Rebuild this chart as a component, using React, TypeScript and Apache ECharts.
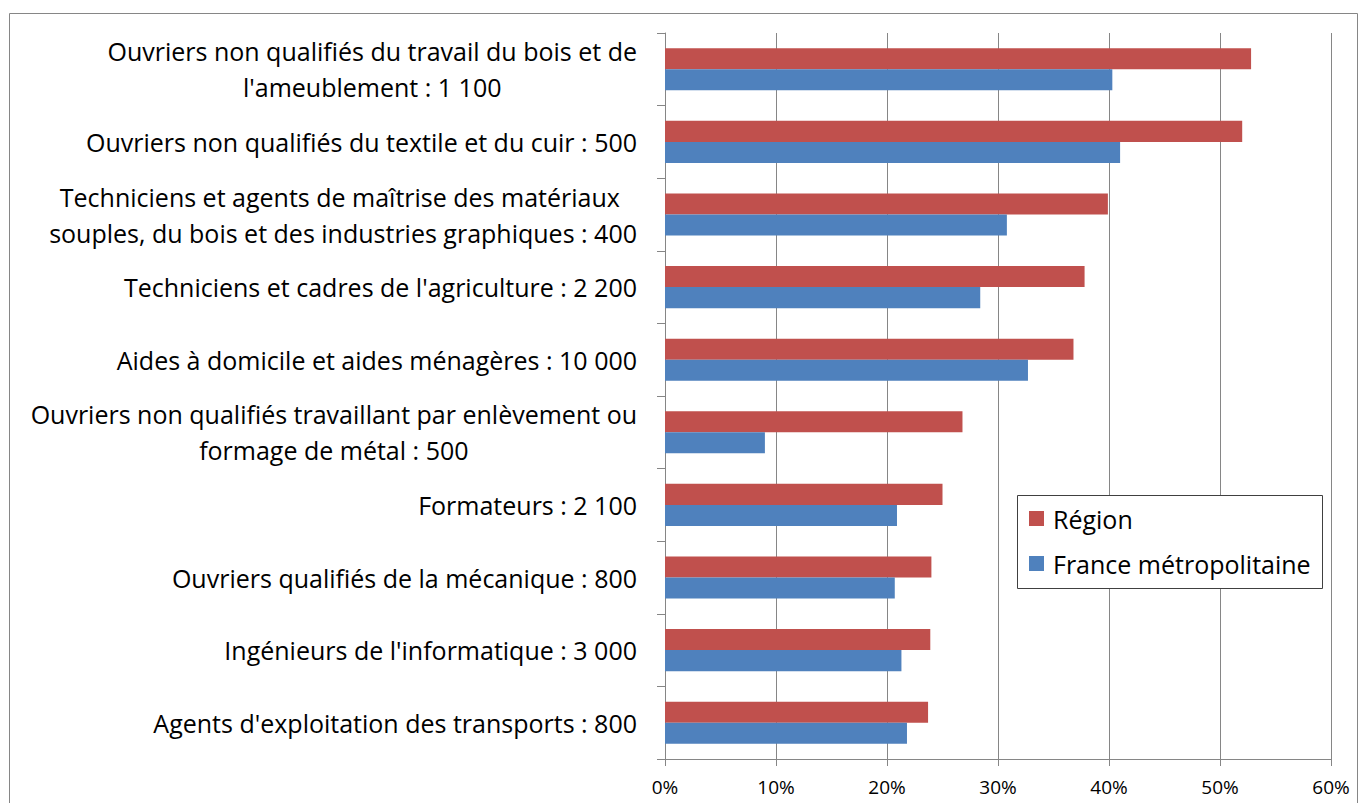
import React, { useEffect, useRef } from "react";
import * as echarts from "echarts";

const categories: string[] = [
  "Ouvriers non qualifiés du travail du bois et de\nl'ameublement : 1 100",
  "Ouvriers non qualifiés du textile et du cuir : 500",
  "Techniciens et agents de maîtrise des matériaux \nsouples, du bois et des industries graphiques : 400",
  "Techniciens et cadres de l'agriculture : 2 200",
  "Aides à domicile et aides ménagères : 10 000",
  "Ouvriers non qualifiés travaillant par enlèvement ou\nformage de métal : 500",
  "Formateurs : 2 100",
  "Ouvriers qualifiés de la mécanique : 800",
  "Ingénieurs de l'informatique : 3 000",
  "Agents d'exploitation des transports : 800",
];

const regionValues: number[] = [52.8, 52.0, 39.9, 37.8, 36.8, 26.8, 25.0, 24.0, 23.9, 23.7];
const franceValues: number[] = [40.3, 41.0, 30.8, 28.4, 32.7, 9.0, 20.9, 20.7, 21.3, 21.8];

const seriesNames: string[] = ["Région", "France métropolitaine"];
const xTicks: number[] = [0, 10, 20, 30, 40, 50, 60];

const FONT = "'Open Sans', 'Noto Sans', sans-serif";

export default function App() {
  const ref = useRef<HTMLDivElement>(null);
  useEffect(() => {
    if (!ref.current) return;
    const chart = echarts.init(ref.current, undefined, { renderer: "svg" });
    chart.setOption({
      animation: false,
      backgroundColor: "#ffffff",
      textStyle: { fontFamily: FONT, color: "#000" },
      grid: { left: 665, right: 29, top: 33, bottom: 44, containLabel: false },
      xAxis: {
        type: "value",
        min: xTicks[0],
        max: xTicks[xTicks.length - 1],
        interval: xTicks[1] - xTicks[0],
        axisLine: { show: true, lineStyle: { color: "#868686", width: 1 } },
        axisTick: { show: true, length: 7, lineStyle: { color: "#868686" } },
        axisLabel: {
          formatter: "{value}%",
          fontSize: 19,
          fontFamily: FONT,
          color: "#000",
          margin: 18,
        },
        splitLine: { show: true, lineStyle: { color: "#868686", width: 1 } },
      },
      yAxis: {
        type: "category",
        inverse: true,
        data: categories,
        axisLine: { show: true, lineStyle: { color: "#868686", width: 1 } },
        axisTick: { show: true, length: 8, alignWithLabel: false, lineStyle: { color: "#868686" } },
        splitLine: { show: false },
        axisLabel: {
          margin: 28,
          align: "right",
          formatter: (v: string) =>
            v
              .split("\n")
              .map((l) => `{c|${l}}`)
              .join("\n"),
          rich: {
            c: {
              fontSize: 25,
              lineHeight: 36,
              fontFamily: FONT,
              color: "#000",
              align: "center",
            },
          },
        },
      },
      legend: {
        orient: "vertical",
        left: 1029,
        top: 506,
        itemWidth: 15,
        itemHeight: 15,
        itemGap: 20,
        icon: "rect",
        padding: 0,
        z: 10,
        textStyle: { fontSize: 25, fontFamily: FONT, color: "#000", padding: [0, 0, 0, 4] },
        data: seriesNames,
      },
      graphic: [
        {
          type: "rect",
          z: 5,
          shape: { x: 1017.5, y: 495.5, width: 305, height: 93 },
          style: { fill: "#ffffff", stroke: "#404040", lineWidth: 1 },
        },
        {
          type: "rect",
          z: 0,
          silent: true,
          shape: { x: 9.5, y: 13.5, width: 1348, height: 800 },
          style: { fill: "none", stroke: "#868686", lineWidth: 1 },
        },
      ],
      series: [
        {
          name: seriesNames[0],
          type: "bar",
          data: regionValues,
          barGap: "0%",
          barCategoryGap: "42%",
          itemStyle: { color: "#C0504D" },
        },
        {
          name: seriesNames[1],
          type: "bar",
          data: franceValues,
          barGap: "0%",
          barCategoryGap: "42%",
          itemStyle: { color: "#4F81BD" },
        },
      ],
    });
    return () => chart.dispose();
  }, []);
  return (
    <div
      ref={ref}
      style={{ position: "fixed", left: 0, top: 0, width: 1360, height: 803, background: "#fff" }}
    />
  );
}
